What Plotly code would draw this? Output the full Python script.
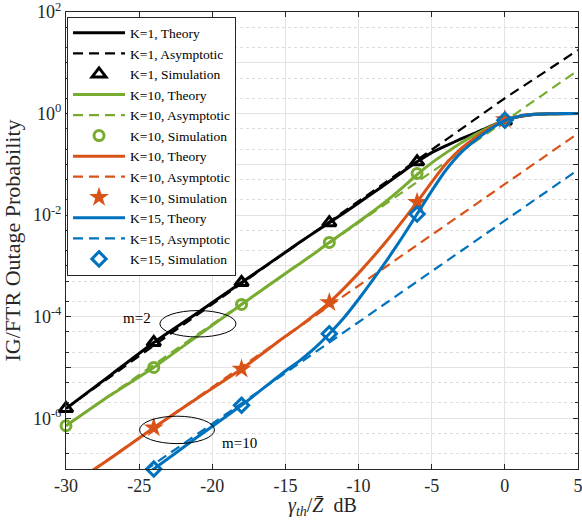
import plotly.graph_objects as go

# ---------------- data ----------------
x_theory = [-30, -27, -24, -21, -18, -15, -14, -13, -12, -11, -10, -9, -8, -7, -6,
            -5, -4, -3, -2, -1, 0, 1, 2, 3, 4, 5]

k1_m2_theory = [1.55e-6, 6.9e-6, 3.1e-5, 1.2e-4, 4.7e-4, 1.86e-3, 2.95e-3, 4.6e-3, 7.1e-3,
                0.011, 0.0174, 0.0275, 0.0437, 0.0708, 0.112,
                0.17, 0.234, 0.316, 0.417, 0.562, 0.724, 0.871, 0.955, 0.986, 0.995, 1.0]
k10_m2_theory = [7.1e-7, 2.8e-6, 1.0e-5, 4.2e-5, 1.74e-4, 7.1e-4, 1.12e-3, 1.78e-3, 2.9e-3,
                 4.6e-3, 7.4e-3, 0.012, 0.020, 0.0347, 0.063,
                 0.107, 0.17, 0.263, 0.389, 0.55, 0.741, 0.891, 0.966, 0.991, 0.998, 1.0]
k10_m10_theory = [4.1e-8, 1.6e-7, 6.5e-7, 2.5e-6, 9.3e-6, 4.1e-5, 6.6e-5, 1.1e-4, 1.9e-4,
                  3.6e-4, 7.2e-4, 1.51e-3, 3.3e-3, 7.6e-3, 0.018,
                  0.0447, 0.105, 0.204, 0.339, 0.525, 0.741, 0.891, 0.966, 0.991, 0.998, 1.0]
k15_m10_theory = [6.3e-9, 2.5e-8, 1.0e-7, 4.3e-7, 1.8e-6, 8.5e-6, 1.38e-5, 2.4e-5, 4.6e-5,
                  9.5e-5, 2.2e-4, 5.4e-4, 1.38e-3, 3.7e-3, 0.0105,
                  0.030, 0.079, 0.17, 0.30, 0.49, 0.724, 0.891, 0.966, 0.991, 0.998, 1.0]

x_asym = [-30, -24, -18, -12, -6, 0, 5]
k1_m2_asym = [1.55e-6, 2.7e-5, 4.5e-4, 7.4e-3, 0.123, 2.0, 17.8]
k10_m2_asym = [7.1e-7, 1.12e-5, 1.78e-4, 2.8e-3, 0.0447, 0.708, 7.1]
k10_m10_asym = [4.1e-8, 6.5e-7, 1.0e-5, 1.62e-4, 2.57e-3, 0.0407, 0.407]
k15_m10_asym = [7.8e-9, 1.23e-7, 1.95e-6, 3.1e-5, 4.9e-4, 7.8e-3, 0.078]

x_sim = [-30, -24, -18, -12, -6, 0]
k1_m2_sim = [1.55e-6, 3.1e-5, 4.7e-4, 7.1e-3, 0.112, 0.71]
k10_m2_sim = [7.1e-7, 1.0e-5, 1.74e-4, 2.9e-3, 0.066, 0.73]
x_sim_m10 = [-24, -18, -12, -6, 0]
k10_m10_sim = [6.5e-7, 9.3e-6, 1.9e-4, 0.018, 0.76]
k15_m10_sim = [1.0e-7, 1.8e-6, 4.6e-5, 0.0105, 0.74]

x_ticks = [-30, -25, -20, -15, -10, -5, 0, 5]
y_tick_vals = [1e-7, 1e-6, 1e-5, 1e-4, 1e-3, 1e-2, 1e-1, 1e0, 1e1, 1e2]
y_tick_text = ["", "10<sup>-6</sup>", "", "10<sup>-4</sup>", "", "10<sup>-2</sup>", "",
               "10<sup>0</sup>", "", "10<sup>2</sup>"]

# ---------------- styling ----------------
BLACK = "#000000"
GREEN = "#77AC30"
ORANGE = "#D95319"
BLUE = "#0072BD"
FONT = "Liberation Serif, Times New Roman, serif"

fig = go.Figure()

groups = [
    ("K=1", BLACK, k1_m2_theory, k1_m2_asym, x_sim, k1_m2_sim,
     dict(symbol="triangle-up-open", size=12, line=dict(width=3, color=BLACK), color=BLACK)),
    ("K=10", GREEN, k10_m2_theory, k10_m2_asym, x_sim, k10_m2_sim,
     dict(symbol="circle-open", size=10, line=dict(width=3, color=GREEN), color=GREEN)),
    ("K=10", ORANGE, k10_m10_theory, k10_m10_asym, x_sim_m10, k10_m10_sim,
     dict(symbol="star", size=15, line=dict(width=0, color=ORANGE), color=ORANGE)),
    ("K=15", BLUE, k15_m10_theory, k15_m10_asym, x_sim_m10, k15_m10_sim,
     dict(symbol="diamond-open", size=11, line=dict(width=3, color=BLUE), color=BLUE)),
]

for name, col, th, asy, xs, sim, mk in groups:
    fig.add_trace(go.Scatter(x=x_theory, y=th, mode="lines", name=f"{name}, Theory",
                             line=dict(color=col, width=3, shape="spline", smoothing=0.5)))
    fig.add_trace(go.Scatter(x=x_asym, y=asy, mode="lines", name=f"{name}, Asymptotic",
                             line=dict(color=col, width=2.2, dash="10px,6px")))
    fig.add_trace(go.Scatter(x=xs, y=sim, mode="markers", name=f"{name}, Simulation",
                             marker=mk, cliponaxis=False))

# ellipses (annotation shapes) : (centre x, centre log10 y, half-width dB, half-height decades)
ellipses = [(-20.98, -4.14, 2.6, 0.26), (-22.41, -6.23, 2.56, 0.27)]
for cx, cy, rx, ry in ellipses:
    fig.add_shape(type="circle", xref="x", yref="y",
                  x0=cx - rx, x1=cx + rx, y0=10 ** (cy - ry), y1=10 ** (cy + ry),
                  line=dict(color="black", width=1))

fig.add_annotation(x=-25.15, y=-4.02, xref="x", yref="y", text="m=2", showarrow=False,
                   font=dict(family=FONT, size=15, color="black"))
fig.add_annotation(x=-18.17, y=-6.49, xref="x", yref="y", text="m=10", showarrow=False,
                   font=dict(family=FONT, size=15, color="black"))

# x-axis title as an annotation
fig.add_annotation(x=0.5, y=0, xref="paper", yref="paper", yanchor="middle", yshift=-37,
                   text="<i>γ</i><sub><i>th</i></sub>/<i>Z̄</i>  dB", showarrow=False,
                   font=dict(family=FONT, size=20, color="#262626"))

fig.update_layout(
    width=582, height=524,
    margin=dict(l=66, r=4, t=12, b=55),
    paper_bgcolor="white", plot_bgcolor="white",
    font=dict(family=FONT, size=18, color="#262626"),
    showlegend=True,
    legend=dict(x=0.002, y=0.99, xanchor="left", yanchor="top",
                bgcolor="white", bordercolor="#262626", borderwidth=1,
                font=dict(family=FONT, size=13.5, color="#000000"),
                itemwidth=52, tracegroupgap=0),
)

fig.update_xaxes(
    range=[-30, 5], tickvals=x_ticks, ticktext=[str(v) for v in x_ticks],
    automargin=False,
    showline=True, linecolor="#262626", linewidth=1, mirror="ticks",
    ticks="inside", ticklen=5, tickcolor="#262626", ticklabeloverflow="allow",
    showgrid=True, gridcolor="#e3e3e3", gridwidth=1, zeroline=False,
    tickfont=dict(family=FONT, size=18),
)
fig.update_yaxes(
    type="log", range=[-7, 2], tickvals=y_tick_vals, ticktext=y_tick_text,
    automargin=False, ticklabeloverflow="allow",
    showline=True, linecolor="#262626", linewidth=1, mirror="ticks",
    ticks="inside", ticklen=5, tickcolor="#262626",
    showgrid=True, gridcolor="#e3e3e3", gridwidth=1, zeroline=False,
    minor=dict(ticks="inside", ticklen=3, tickcolor="#262626", showgrid=True,
               gridcolor="#dcdcdc", griddash="dot", gridwidth=1),
    title=dict(text="IG/FTR Outage Probability", font=dict(family=FONT, size=22), standoff=11),
    tickfont=dict(family=FONT, size=18),
)

fig.write_html("out.html", config={"displayModeBar": False},
               post_script="document.body.style.margin='0';document.body.style.padding='0';")
